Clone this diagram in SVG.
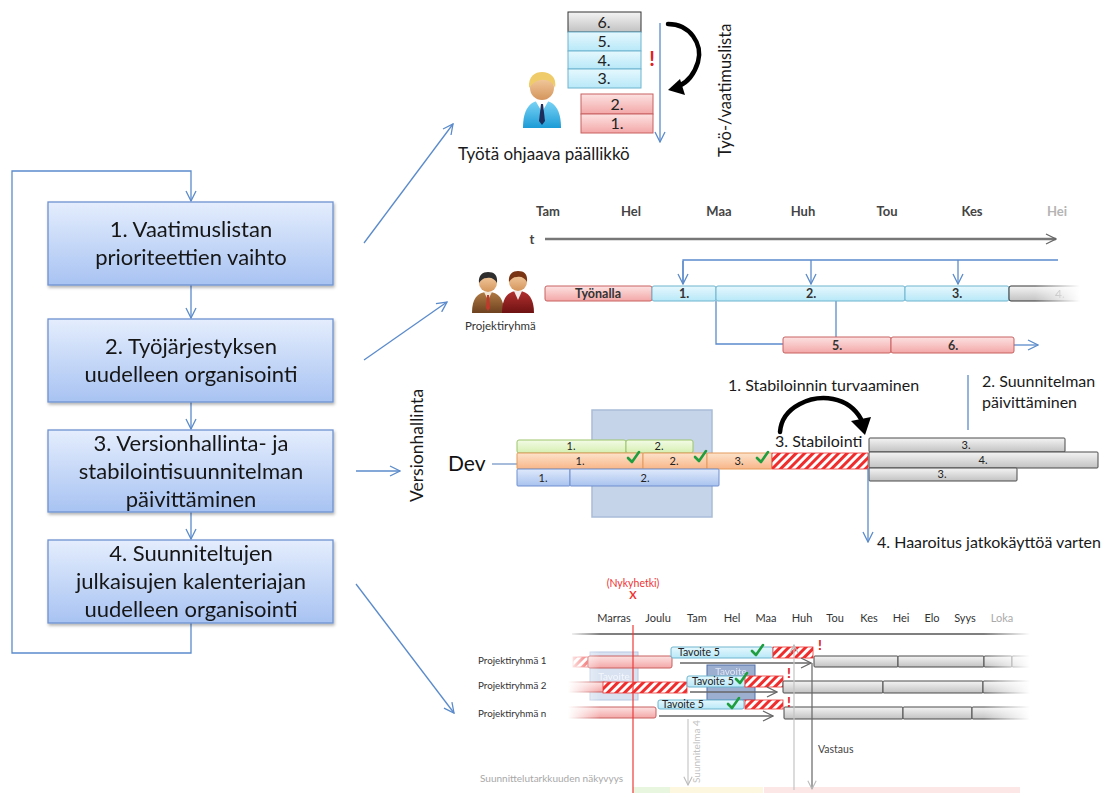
<svg xmlns="http://www.w3.org/2000/svg" width="1112" height="793" viewBox="0 0 1112 793">
<defs>
<style>
  text{font-family:Lato,"Liberation Sans",sans-serif;}
  .step{font-size:22px;fill:#161616;text-anchor:middle;}
  .conn{fill:none;stroke:#5b8bcb;stroke-width:1.3;}
  .lbl{fill:#222;text-anchor:middle;}
  .mth1{font-size:13px;font-weight:bold;fill:#444;text-anchor:middle;}
  .mth2{font-size:11px;fill:#333;text-anchor:middle;}
  .row{font-size:9.8px;fill:#333;}
  .note{font-size:16px;fill:#1a1a1a;}
  .chk{fill:none;stroke:#1e9e3e;stroke-width:2.6;stroke-linecap:round;stroke-linejoin:round;}
  .bStep{fill:url(#gStep);stroke:#6f92d2;stroke-width:1.3;}
  .bCyan{fill:url(#gCyan);stroke:#6fb4cf;stroke-width:1;}
  .bPink{fill:url(#gPink);stroke:#c86060;stroke-width:1;}
  .bGray{fill:url(#gGray);stroke:#4a4a4a;stroke-width:1;}
  .bOrg{fill:url(#gOrg);stroke:#e39a5c;stroke-width:1;}
  .bGrn{fill:url(#gGrn);stroke:#9cc56c;stroke-width:1;}
  .bBlu{fill:url(#gBlu);stroke:#6f8fcf;stroke-width:1;}
  .bHat{fill:url(#hatch);stroke:#e33;stroke-width:0.8;}
  .gline{fill:none;stroke:#666;stroke-width:1.3;}
  .excl{fill:#e02020;font-weight:bold;}
</style>
<linearGradient id="gStep" x1="0" y1="0" x2="0" y2="1"><stop offset="0" stop-color="#e4edfd"/><stop offset="1" stop-color="#a8c3f2"/></linearGradient>
<linearGradient id="gCyan" x1="0" y1="0" x2="0" y2="1"><stop offset="0" stop-color="#e6f8fe"/><stop offset="1" stop-color="#b8e8f8"/></linearGradient>
<linearGradient id="gPink" x1="0" y1="0" x2="0" y2="1"><stop offset="0" stop-color="#fde2e2"/><stop offset="1" stop-color="#f3a7a7"/></linearGradient>
<linearGradient id="gGray" x1="0" y1="0" x2="0" y2="1"><stop offset="0" stop-color="#f4f4f4"/><stop offset="1" stop-color="#c2c2c2"/></linearGradient>
<linearGradient id="gOrg" x1="0" y1="0" x2="0" y2="1"><stop offset="0" stop-color="#fde3cb"/><stop offset="1" stop-color="#f8b689"/></linearGradient>
<linearGradient id="gGrn" x1="0" y1="0" x2="0" y2="1"><stop offset="0" stop-color="#f3fbe6"/><stop offset="1" stop-color="#d6efb2"/></linearGradient>
<linearGradient id="gBlu" x1="0" y1="0" x2="0" y2="1"><stop offset="0" stop-color="#dfe9fb"/><stop offset="1" stop-color="#a9c3ef"/></linearGradient>
<linearGradient id="gShirt" x1="0" y1="0" x2="0" y2="1"><stop offset="0" stop-color="#7fd6f7"/><stop offset="1" stop-color="#1c9bd6"/></linearGradient>
<linearGradient id="gSkin" x1="0" y1="0" x2="0" y2="1"><stop offset="0" stop-color="#f6cfa4"/><stop offset="1" stop-color="#d4955c"/></linearGradient>
<linearGradient id="gBrown" x1="0" y1="0" x2="0" y2="1"><stop offset="0" stop-color="#b07a44"/><stop offset="1" stop-color="#6e4220"/></linearGradient>
<linearGradient id="gWine" x1="0" y1="0" x2="0" y2="1"><stop offset="0" stop-color="#b33030"/><stop offset="1" stop-color="#6e1212"/></linearGradient>
<pattern id="hatch" patternUnits="userSpaceOnUse" width="6" height="6" patternTransform="rotate(45)">
  <rect width="6" height="6" fill="#fff"/><rect width="3" height="6" fill="#ef2d2d"/>
</pattern>
<linearGradient id="fadeTop" gradientUnits="userSpaceOnUse" x1="1035" y1="0" x2="1080" y2="0"><stop offset="0" stop-color="#fff"/><stop offset="1" stop-color="#000"/></linearGradient>
<mask id="mTop" maskUnits="userSpaceOnUse" x="0" y="0" width="1112" height="793"><rect width="1112" height="793" fill="url(#fadeTop)"/></mask>
<linearGradient id="fadeBot" gradientUnits="userSpaceOnUse" x1="568" y1="0" x2="1030" y2="0">
  <stop offset="0" stop-color="#000"/><stop offset="0.07" stop-color="#fff"/><stop offset="0.9" stop-color="#fff"/><stop offset="1" stop-color="#000"/>
</linearGradient>
<mask id="mBot" maskUnits="userSpaceOnUse" x="0" y="0" width="1112" height="793"><rect width="1112" height="793" fill="url(#fadeBot)"/></mask>
<filter id="shadow" x="-5%" y="-10%" width="110%" height="130%"><feDropShadow dx="1" dy="2" stdDeviation="1.5" flood-color="#000" flood-opacity="0.3"/></filter>
<marker id="aBlue" viewBox="0 0 12 12" refX="11" refY="6" markerWidth="12" markerHeight="12" markerUnits="userSpaceOnUse" orient="auto">
  <path d="M1,1 L11,6 L1,11" fill="none" stroke="#5b8bcb" stroke-width="1.3"/>
</marker>
<marker id="aGray" viewBox="0 0 12 12" refX="11" refY="6" markerWidth="12" markerHeight="12" markerUnits="userSpaceOnUse" orient="auto">
  <path d="M1,1 L11,6 L1,11" fill="none" stroke="#666" stroke-width="1.3"/>
</marker>
<marker id="aLite" viewBox="0 0 12 12" refX="11" refY="6" markerWidth="10" markerHeight="10" markerUnits="userSpaceOnUse" orient="auto">
  <path d="M1,1 L11,6 L1,11" fill="none" stroke="#bbb" stroke-width="1.3"/>
</marker>
<path id="tick" d="M-5,0 L-1,4 L6,-6"/>
</defs>

<rect width="1112" height="793" fill="#fff"/>

<!-- connectors of the step cycle and the links to the pictures -->
<g id="connectors">
  <path class="conn" d="M191,623 V653 H12 V171 H191 V201" marker-end="url(#aBlue)"/>
  <path class="conn" d="M191,285 V318" marker-end="url(#aBlue)"/>
  <path class="conn" d="M191,402 V429" marker-end="url(#aBlue)"/>
  <path class="conn" d="M191,512 V539" marker-end="url(#aBlue)"/>
  <path class="conn" d="M364,243 L453,124" marker-end="url(#aBlue)"/>
  <path class="conn" d="M364,360 L447,302" marker-end="url(#aBlue)"/>
  <path class="conn" d="M356,471 H400" marker-end="url(#aBlue)"/>
  <path class="conn" d="M356,584 L454,713" marker-end="url(#aBlue)"/>
</g>

<!-- process steps -->
<g id="step1" filter="url(#shadow)">
  <rect class="bStep" x="48" y="202" width="285" height="83"/>
  <text class="step" x="191" y="237">1. Vaatimuslistan</text>
  <text class="step" x="191" y="265">prioriteettien vaihto</text>
</g>
<g id="step2" filter="url(#shadow)">
  <rect class="bStep" x="48" y="319" width="285" height="83"/>
  <text class="step" x="191" y="354">2. Työjärjestyksen</text>
  <text class="step" x="191" y="382">uudelleen organisointi</text>
</g>
<g id="step3" filter="url(#shadow)">
  <rect class="bStep" x="48" y="430" width="285" height="82"/>
  <text class="step" x="191" y="451">3. Versionhallinta- ja</text>
  <text class="step" x="191" y="479">stabilointisuunnitelman</text>
  <text class="step" x="191" y="507">päivittäminen</text>
</g>
<g id="step4" filter="url(#shadow)">
  <rect class="bStep" x="48" y="540" width="285" height="83"/>
  <text class="step" x="191" y="561">4. Suunniteltujen</text>
  <text class="step" x="191" y="589">julkaisujen kalenteriajan</text>
  <text class="step" x="191" y="617">uudelleen organisointi</text>
</g>

<!-- work / requirement list -->
<g id="worklist">
  <rect class="bGray" x="568" y="12" width="73" height="20" style="stroke:#333"/>
  <rect class="bCyan" x="568" y="32" width="73" height="19"/>
  <rect class="bCyan" x="568" y="51" width="73" height="18"/>
  <rect class="bCyan" x="568" y="69" width="73" height="19"/>
  <rect class="bPink" x="581" y="94" width="72" height="20"/>
  <rect class="bPink" x="581" y="114" width="72" height="19"/>
  <g class="lbl" style="font-size:16px">
    <text x="604" y="28">6.</text><text x="604" y="47">5.</text><text x="604" y="66">4.</text><text x="604" y="84">3.</text>
    <text x="617" y="110">2.</text><text x="617" y="129">1.</text>
  </g>
  <text class="excl" x="652" y="66" style="font-size:20px" text-anchor="middle">!</text>
  <path class="conn" d="M660,23 V142" marker-end="url(#aBlue)"/>
  <path d="M668,24 C690,24 703,44 698,62 C694,75 688,82 679,86" fill="none" stroke="#000" stroke-width="4.5" stroke-linecap="round"/>
  <polygon points="668,90 680,79 685,95" fill="#000"/>
  <text class="note" transform="translate(731,157) rotate(-90)" style="font-size:16.5px">Työ-/vaatimuslista</text>
  <text class="note" x="458" y="160" style="font-size:17px">Työtä ohjaava päällikkö</text>
</g>

<!-- manager figure -->
<g id="manager">
  <path d="M523,128 C523,110 529,101 542,100 C555,101 561,110 561,128 Z" fill="url(#gShirt)"/>
  <path d="M535,100 L542,112 L549,100 Z" fill="#fff"/>
  <path d="M541,104 L543,104 L545,121 L542,125 L539,121 Z" fill="#1d2d5c"/>
  <circle cx="542" cy="88" r="12" fill="url(#gSkin)"/>
  <path d="M529,88 C528,76 535,72 542,72 C550,72 557,77 555,88 C553,82 547,79 541,80 C535,81 532,84 529,88 Z" fill="#efcb6a"/>
</g>

<!-- release timeline -->
<g id="timeline">
  <text class="mth1" x="548" y="216">Tam</text>
  <text class="mth1" x="631" y="216">Hel</text>
  <text class="mth1" x="719" y="216">Maa</text>
  <text class="mth1" x="803" y="216">Huh</text>
  <text class="mth1" x="887" y="216">Tou</text>
  <text class="mth1" x="972" y="216">Kes</text>
  <text class="mth1" x="1057" y="216" style="fill:#b4b4b4">Hei</text>
  <text class="mth1" x="532" y="244">t</text>
  <path d="M545,239 H1056" stroke="#777" stroke-width="2.5" fill="none" marker-end="url(#aGray)"/>
  <path class="conn" d="M683,283 V260 H1058"/>
  <path class="conn" d="M683,261 V284" marker-end="url(#aBlue)"/>
  <path class="conn" d="M811,260 V284" marker-end="url(#aBlue)"/>
  <path class="conn" d="M958,260 V284" marker-end="url(#aBlue)"/>
  <path class="conn" d="M716,301 V344 H783"/>
  <path class="conn" d="M836,301 V337"/>
  <path class="conn" d="M1014,345 H1038" marker-end="url(#aBlue)"/>
  <rect class="bPink" x="545" y="286" width="107" height="15" rx="2"/>
  <rect class="bCyan" x="652" y="286" width="64" height="15" rx="2"/>
  <rect class="bCyan" x="716" y="286" width="189" height="15" rx="2"/>
  <rect class="bCyan" x="905" y="286" width="104" height="15" rx="2"/>
  <g mask="url(#mTop)">
    <rect class="bGray" x="1009" y="286" width="75" height="15" rx="2" style="stroke:#333"/>
    <text class="lbl" x="1060" y="298" style="font-size:12px;fill:#999">4.</text>
  </g>
  <rect class="bPink" x="783" y="337" width="108" height="16" rx="2"/>
  <rect class="bPink" x="891" y="337" width="123" height="16" rx="2"/>
  <g class="lbl" style="font-size:12.5px;font-weight:bold;fill:#333">
    <text x="598" y="298">Työnalla</text>
    <text x="684" y="298">1.</text>
    <text x="811" y="298">2.</text>
    <text x="957" y="298">3.</text>
    <text x="837" y="350">5.</text>
    <text x="953" y="350">6.</text>
  </g>
</g>

<!-- project team figure -->
<g id="team">
  <path d="M472,313 C472,299 477,292 488,292 C499,292 504,299 504,313 Z" fill="url(#gBrown)"/>
  <path d="M484,292 L488,300 L492,292 Z" fill="#f2e6d6"/>
  <path d="M487,295 L489,295 L490,308 L488,311 L486,308 Z" fill="#c0392b"/>
  <circle cx="488" cy="283" r="9" fill="url(#gSkin)"/>
  <path d="M479,283 C478,275 483,272 488,272 C494,272 498,275 497,283 C495,279 491,277 487,278 C483,278 481,280 479,283 Z" fill="#2e2e2e"/>
  <path d="M502,313 C502,299 507,291 518,291 C529,291 534,299 534,313 Z" fill="url(#gWine)"/>
  <path d="M514,291 L518,300 L522,291 Z" fill="#f4ecec"/>
  <circle cx="518" cy="282" r="9" fill="url(#gSkin)"/>
  <path d="M509,282 C508,274 513,271 518,271 C524,271 528,274 527,282 C525,278 521,276 517,277 C513,277 511,279 509,282 Z" fill="#7a3514"/>
  <text x="465" y="330" style="font-size:11.5px;fill:#333">Projektiryhmä</text>
</g>

<!-- version control branches -->
<g id="versioning">
  <text class="note" transform="translate(423,502) rotate(-90)" style="font-size:17.5px">Versionhallinta</text>
  <text x="448" y="471" style="font-size:21px;fill:#111">Dev</text>
  <path d="M492,464 H517" stroke="#8aa6cf" stroke-width="1.5"/>
  <rect x="592" y="410" width="120" height="107" fill="#c6d4e9" stroke="#a9bcd8" stroke-width="1.5"/>
  <rect class="bGrn" x="517" y="440" width="109" height="13" rx="2"/>
  <rect class="bGrn" x="626" y="440" width="67" height="13" rx="2"/>
  <rect class="bOrg" x="517" y="453" width="126" height="16" rx="1"/>
  <rect class="bOrg" x="643" y="453" width="64" height="16" rx="1"/>
  <rect class="bOrg" x="707" y="453" width="65" height="16" rx="1"/>
  <rect class="bBlu" x="517" y="469" width="53" height="17" rx="1"/>
  <rect class="bBlu" x="570" y="469" width="149" height="17" rx="1"/>
  <rect class="bHat" x="772" y="453" width="96" height="16"/>
  <g class="lbl" style="font-size:11px">
    <text x="571" y="450">1.</text><text x="659" y="450">2.</text>
    <text x="580" y="465">1.</text><text x="674" y="465">2.</text><text x="739" y="465">3.</text>
    <text x="543" y="482">1.</text><text x="645" y="482">2.</text>
  </g>
  <use href="#tick" class="chk" x="633" y="458"/>
  <use href="#tick" class="chk" x="700" y="457"/>
  <use href="#tick" class="chk" x="762" y="458"/>
  <rect class="bGray" x="869" y="438" width="196" height="14" rx="1"/>
  <rect class="bGray" x="869" y="452" width="229" height="16" rx="1"/>
  <rect class="bGray" x="869" y="468" width="148" height="13" rx="1"/>
  <g class="lbl" style="font-size:11px">
    <text x="966" y="449">3.</text><text x="983" y="464">4.</text><text x="942" y="478">3.</text>
  </g>
  <path d="M780,432 C782,406 812,395 833,399 C848,402 856,410 861,419" fill="none" stroke="#000" stroke-width="4.5" stroke-linecap="round"/>
  <polygon points="865,435 851,421 871,417" fill="#000"/>
  <path class="conn" d="M968,375 V430"/>
  <path class="conn" d="M868,468 V542" marker-end="url(#aBlue)"/>
  <text class="note" x="728" y="391">1. Stabiloinnin turvaaminen</text>
  <text class="note" x="775" y="447">3. Stabilointi</text>
  <text class="note" x="982" y="387">2. Suunnitelman</text>
  <text class="note" x="982" y="408">päivittäminen</text>
  <text class="note" x="877" y="548">4. Haaroitus jatkokäyttöä varten</text>
</g>

<!-- release calendar -->
<g id="calendar">
  <text x="633" y="587" style="font-size:10.5px;fill:#ee3333" text-anchor="middle">(Nykyhetki)</text>
  <text x="633" y="599" style="font-size:11px;fill:#ee3333;font-weight:bold" text-anchor="middle">X</text>
  <text class="mth2" x="614" y="622">Marras</text>
  <text class="mth2" x="658" y="622">Joulu</text>
  <text class="mth2" x="697" y="622">Tam</text>
  <text class="mth2" x="732" y="622">Hel</text>
  <text class="mth2" x="766" y="622">Maa</text>
  <text class="mth2" x="802" y="622">Huh</text>
  <text class="mth2" x="835" y="622">Tou</text>
  <text class="mth2" x="869" y="622">Kes</text>
  <text class="mth2" x="901" y="622">Hei</text>
  <text class="mth2" x="932" y="622">Elo</text>
  <text class="mth2" x="965" y="622">Syys</text>
  <text class="mth2" x="1002" y="622" style="fill:#aaa">Loka</text>
  <text class="row" x="478" y="664">Projektiryhmä 1</text>
  <text class="row" x="478" y="689">Projektiryhmä 2</text>
  <text class="row" x="478" y="717">Projektiryhmä n</text>

  <!-- planning accuracy bands along the bottom edge -->
  <rect x="633" y="787" width="37" height="6" fill="#e8f5df"/>
  <rect x="670" y="787" width="93" height="6" fill="#fdf7df"/>
  <rect x="764" y="787" width="256" height="6" fill="#fde6e6"/>

  <g mask="url(#mBot)">
    <path d="M572,634 H1030" stroke="#555" stroke-width="1.5"/>
    <!-- target windows -->
    <rect x="590" y="652" width="48" height="48" fill="#a9bfe0" fill-opacity="0.45" stroke="#b7c8e3"/>
    <text x="614" y="680" style="font-size:10px;fill:#fff;fill-opacity:0.7" text-anchor="middle">Tavoite</text>
    <rect x="707" y="665" width="48" height="35" fill="#5c7ab3" fill-opacity="0.6" stroke="#4f6ea8"/>
    <text x="731" y="675" style="font-size:10px;fill:#dfe6f3" text-anchor="middle">Tavoite</text>
    <!-- team 1 -->
    <rect class="bHat" x="573" y="657" width="15" height="10"/>
    <rect class="bPink" x="588" y="656" width="84" height="12" rx="2"/>
    <rect class="bCyan" x="671" y="647" width="102" height="11" rx="2"/>
    <rect class="bHat" x="773" y="647" width="40" height="11"/>
    <path class="gline" d="M680,663 H811" marker-end="url(#aGray)"/>
    <rect class="bGray" x="814" y="656" width="84" height="11" rx="1"/>
    <rect class="bGray" x="898" y="656" width="86" height="11" rx="1"/>
    <rect class="bGray" x="984" y="656" width="28" height="11" rx="1"/>
    <rect class="bGray" x="1012" y="656" width="20" height="11" rx="1"/>
    <!-- team 2 -->
    <rect class="bPink" x="560" y="682" width="45" height="10" rx="1"/>
    <rect class="bHat" x="603" y="682" width="84" height="11"/>
    <rect class="bCyan" x="687" y="676" width="58" height="11" rx="2"/>
    <rect class="bHat" x="745" y="676" width="38" height="11"/>
    <path class="gline" d="M690,692 H777" marker-end="url(#aGray)"/>
    <rect class="bGray" x="783" y="681" width="100" height="12" rx="1"/>
    <rect class="bGray" x="883" y="681" width="100" height="12" rx="1"/>
    <rect class="bGray" x="983" y="681" width="50" height="12" rx="1"/>
    <!-- team n -->
    <rect class="bPink" x="560" y="707" width="96" height="11" rx="2"/>
    <rect class="bCyan" x="658" y="700" width="86" height="9" rx="2"/>
    <rect class="bHat" x="745" y="700" width="38" height="9"/>
    <path class="gline" d="M659,716 H773" marker-end="url(#aGray)"/>
    <rect class="bGray" x="784" y="707" width="119" height="12" rx="1"/>
    <rect class="bGray" x="903" y="707" width="69" height="12" rx="1"/>
    <rect class="bGray" x="972" y="707" width="60" height="12" rx="1"/>
  </g>
  <g style="font-size:10.5px;fill:#222">
    <text x="678" y="656">Tavoite 5</text>
    <text x="692" y="685">Tavoite 5</text>
    <text x="662" y="708">Tavoite 5</text>
  </g>
  <use href="#tick" class="chk" x="757" y="651"/>
  <use href="#tick" class="chk" x="741" y="679"/>
  <use href="#tick" class="chk" x="733" y="704"/>
  <text class="excl" x="820" y="650" style="font-size:14px" text-anchor="middle">!</text>
  <text class="excl" x="789" y="678" style="font-size:14px" text-anchor="middle">!</text>
  <text class="excl" x="789" y="707" style="font-size:14px" text-anchor="middle">!</text>

  <!-- now marker and plan / response lines -->
  <path d="M633,625 V793" stroke="#f03a3a" stroke-width="1.2"/>
  <path d="M794,790 V645" stroke="#c4c4c4" stroke-width="1.2" fill="none" marker-end="url(#aLite)"/>
  <path d="M688,719 V785" stroke="#c8c8c8" stroke-width="1.2" fill="none" marker-end="url(#aLite)"/>
  <path d="M812,663 V789" stroke="#666" stroke-width="1.2" fill="none" marker-end="url(#aLite)"/>
  <text transform="translate(700,783) rotate(-90)" style="font-size:10px;fill:#c2c2c2">Suunnitelma 4</text>
  <text x="818" y="753" style="font-size:10.5px;fill:#444">Vastaus</text>
  <text x="480" y="782" style="font-size:10px;fill:#a8a8a8">Suunnittelutarkkuuden näkyvyys</text>
</g>
</svg>
